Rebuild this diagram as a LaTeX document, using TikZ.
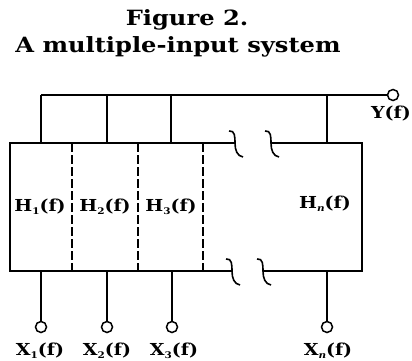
\documentclass[tikz,border=0pt]{standalone}
\usepackage{fontspec}
\usepackage{graphicx}
\setmainfont{DejaVu Serif}
\newfontfamily\labfont[FakeStretch=1.15]{DejaVu Serif}
\newfontfamily\ttlfont[FakeStretch=1.15]{DejaVu Serif}
\newcommand{\mysub}[1]{\raisebox{-0.35ex}{\scalebox{0.55}{#1}}}
\tikzset{
  wire/.style={line width=1.6pt},
  sep/.style={line width=1.3pt, dash pattern=on 9pt off 3pt},
  port/.style={circle, draw, line width=1.5pt, inner sep=0pt, minimum size=11pt, fill=white},
  lab/.style={font=\labfont\bfseries\fontsize{16.5}{16.5}\selectfont, inner sep=0pt},
  ttl/.style={font=\ttlfont\bfseries\fontsize{21}{21}\selectfont, inner sep=0pt},
  brk/.pic={\draw[line width=1.6pt] (-6,-12) .. controls (0,-13) and (0,-6) .. (0,0) .. controls (0,7) and (2,13) .. (8,14);}
}
\begin{document}
\begin{tikzpicture}[x=1pt, y=-1pt]
\useasboundingbox (0,0) rectangle (412,361);
% titles
\node[ttl] (t1) at (187,20) {Figure 2.};
\node[ttl] (t2) at (178,47) {A multiple-input system};
% coordinates
\coordinate (b1) at (41,95);
\coordinate (b2) at (107,95);
\coordinate (b3) at (171,95);
\coordinate (bn) at (327,95);
\coordinate (tl) at (10,143);
\coordinate (bl) at (10,271);
\coordinate (tr) at (362,143);
\coordinate (br) at (362,271);
\coordinate (ta) at (235,143);
\coordinate (tb) at (271,143);
\coordinate (ba) at (232,271);
\coordinate (bb) at (263,271);
% output port
\node[port] (Y) at (393,95) {};
\node[lab, anchor=east] (Ylab) at (411,114) {Y(f)};
% top bus
\draw[wire] (b1) -- (Y);
\draw[wire] (b1) -- (b1 |- tl);
\draw[wire] (b2) -- (b2 |- tl);
\draw[wire] (b3) -- (b3 |- tl);
\draw[wire] (bn) -- (bn |- tl);
% box
\draw[wire] (ta) -- (tl) -- (bl) -- (ba);
\draw[wire] (tb) -- (tr) -- (br) -- (bb);
\pic at (ta) {brk};
\pic at (tb) {brk};
\pic at (ba) {brk};
\pic at (bb) {brk};
% dashed separators
\coordinate (d1) at (72,143);
\coordinate (d2) at (138,143);
\coordinate (d3) at (203,143);
\draw[sep] (d1) -- (d1 |- bl);
\draw[sep] (d2) -- (d2 |- bl);
\draw[sep] (d3) -- (d3 |- bl);
% H labels
\node[lab] (H1) at (40,207) {H\mysub{1}(f)};
\node[lab] (H2) at (105,207) {H\mysub{2}(f)};
\node[lab] (H3) at (171,207) {H\mysub{3}(f)};
\node[lab] (Hn) at (325,204) {H\mysub{\itshape n}(f)};
% input ports
\node[port] (X1) at (41,327) {};
\node[port] (X2) at (107,327) {};
\node[port] (X3) at (172,327) {};
\node[port] (Xn) at (327,327) {};
\draw[wire] (X1) -- (X1 |- bl);
\draw[wire] (X2) -- (X2 |- bl);
\draw[wire] (X3) -- (X3 |- bl);
\draw[wire] (Xn) -- (Xn |- bl);
\node[lab] (X1l) at (40,351) {X\mysub{1}(f)};
\node[lab] (X2l) at (107,351) {X\mysub{2}(f)};
\node[lab] (X3l) at (174,351) {X\mysub{3}(f)};
\node[lab] (Xnl) at (328,351) {X\mysub{\itshape n}(f)};
\end{tikzpicture}
\end{document}
